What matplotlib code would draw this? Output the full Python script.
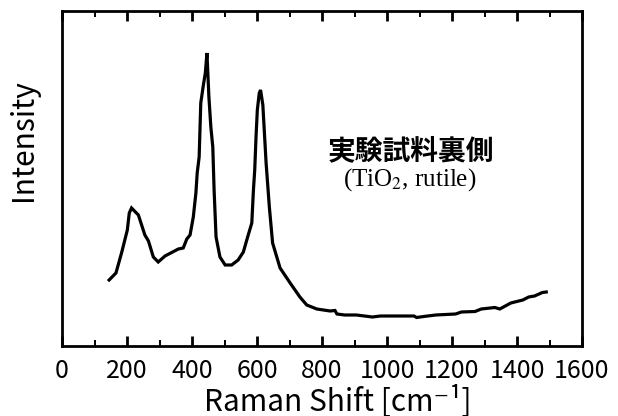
import matplotlib
matplotlib.use("Agg")
import matplotlib.pyplot as plt
from matplotlib import font_manager
from matplotlib.ticker import MultipleLocator

# Raman spectrum of the back side of the test sample (rutile TiO2)
raman_shift = [145, 166, 184, 201, 207, 214, 235, 255, 266, 281, 296, 317, 358, 373,
               384, 394, 404, 412, 416, 422, 427, 435, 441, 446, 452, 458, 464, 468,
               474, 486, 502, 522, 542, 558, 573, 584, 589, 593, 597, 601, 607, 611,
               618, 628, 638, 648, 671, 702, 732, 753, 784, 825, 840, 846, 870, 906,
               955, 980, 1028, 1083, 1091, 1113, 1150, 1211, 1229, 1271, 1290, 1332,
               1347, 1381, 1418, 1436, 1454, 1478, 1490]
intensity = [66, 73, 94, 116, 133, 138, 131, 111, 105, 89, 84, 90, 97, 98,
             107, 111, 129, 153, 173, 189, 243, 261, 273, 293, 249, 219, 199, 156,
             109, 89, 81, 81, 86, 94, 111, 123, 156, 176, 209, 236, 253, 256,
             241, 183, 139, 103, 78, 63, 49, 41, 37, 35, 35.5, 32, 31, 31,
             29, 30, 30, 30, 28.5, 29.5, 31, 32, 34, 34.5, 37, 38.5,
             37, 43, 46, 49, 50, 53.5, 54]

x_ticks = [0, 200, 400, 600, 800, 1000, 1200, 1400, 1600]
x_label = "Raman Shift [cm\u207b\u00b9]"
y_label = "Intensity"
sample_name = "実験試料裏側"
phase_name = r"(TiO$_2$, rutile)"

available = {f.name for f in font_manager.fontManager.ttflist}
if "Noto Sans Mono CJK JP" in available:
    axis_font = ["Noto Sans Mono CJK JP", "DejaVu Sans"]
else:
    axis_font = ["Noto Sans CJK JP", "DejaVu Sans"]

fig = plt.figure(figsize=(6.18, 4.16), dpi=100)
ax = fig.add_axes([62 / 618, 70 / 416, 520 / 618, 335 / 416])

ax.plot(raman_shift, intensity, color="black", lw=2.3, solid_joinstyle="miter")

ax.set_xlim(0, 1600)
ax.set_ylim(0, 335)
ax.set_xticks(x_ticks)
ax.set_xticklabels([str(t) for t in x_ticks], family=axis_font, fontsize=18)
ax.xaxis.set_minor_locator(MultipleLocator(100))
ax.tick_params(axis="x", which="major", direction="in", top=True, bottom=True,
               length=7, width=2.0, pad=8.5)
ax.tick_params(axis="x", which="minor", direction="in", top=True, bottom=True,
               length=4.5, width=1.4)
ax.set_yticks([])
for s in ax.spines.values():
    s.set_linewidth(2.0)

ax.set_xlabel(x_label, family=axis_font, fontsize=21.5, ha="center", va="center")
ax.xaxis.set_label_coords(0.53, -0.163)
ax.set_ylabel(y_label, family=axis_font, fontsize=21.5, ha="center", va="center")
ax.yaxis.set_label_coords(-0.075, 0.616)

ax.text(0.672, 0.582, sample_name, transform=ax.transAxes, ha="center", va="center",
        family=["Noto Sans CJK JP", "DejaVu Sans"], fontweight="bold", fontsize=20)
ax.text(0.668, 0.497, phase_name, transform=ax.transAxes, ha="center", va="center",
        family="Liberation Serif", math_fontfamily="stix", fontsize=18)

fig.savefig("out.png", dpi=100)
